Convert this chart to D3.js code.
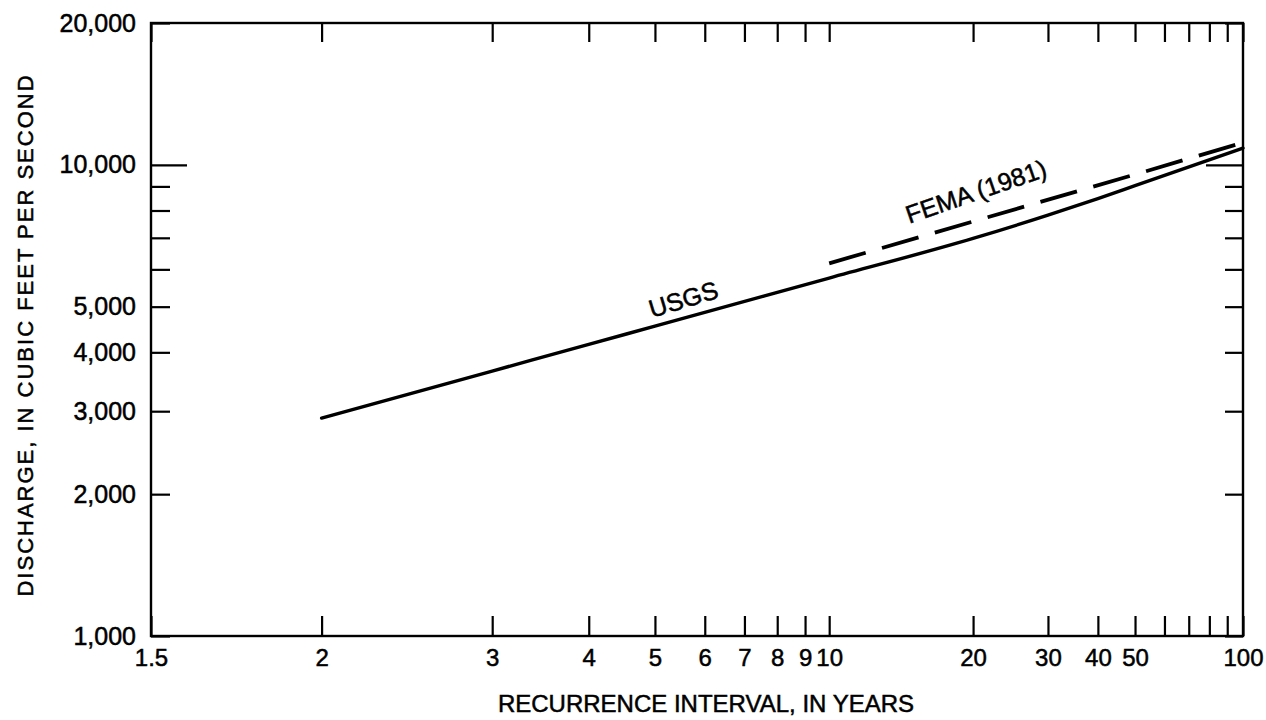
<!DOCTYPE html>
<html>
<head>
<meta charset="utf-8">
<script src="https://cdn.jsdelivr.net/npm/d3@7"></script>
<style>
  body { margin: 0; background: #fff; }
  text { font-family: "Liberation Sans", Arial, sans-serif; fill: #000; stroke: #000; stroke-width: 0.5px; }
</style>
</head>
<body>
<div id="chart"></div>
<script>
// data
var usgsT = [2, 3, 4, 5, 10, 20, 30, 40, 50, 100];
var usgsQ = [2900, 3650, 4160, 4545, 5750, 6980, 7820, 8480, 9030, 10850];
var femaT = [10, 50, 100];
var femaQ = [6180, 9540, 11150];

// axis ticks
var xTicks = [1.5, 2, 3, 4, 5, 6, 7, 8, 9, 10, 20, 30, 40, 50, 60, 70, 80, 90, 100];
var xLabels = [1.5, 2, 3, 4, 5, 6, 7, 8, 9, 10, 20, 30, 40, 50, 100];
var yTicks = [1000, 2000, 3000, 4000, 5000, 6000, 7000, 8000, 9000, 10000, 20000];
var yLabels = [1000, 2000, 3000, 4000, 5000, 10000, 20000];

var width = 1266;
var height = 720;
var plotLeft = 151, plotRight = 1243, plotTop = 23, plotBottom = 636;

// inverse normal cdf (Acklam)
function probit(p) {
  var a = [-3.969683028665376e+01, 2.209460984245205e+02, -2.759285104469687e+02, 1.383577518672690e+02, -3.066479806614716e+01, 2.506628277459239e+00];
  var b = [-5.447609879822406e+01, 1.615858368580409e+02, -1.556989798598866e+02, 6.680131188771972e+01, -1.328068155288572e+01];
  var c = [-7.784894002430293e-03, -3.223964580411365e-01, -2.400758277161838e+00, -2.549732539343734e+00, 4.374664141464968e+00, 2.938163982698783e+00];
  var d = [7.784695709041462e-03, 3.224671290700398e-01, 2.445134137142996e+00, 3.754408661907416e+00];
  var q, r;
  if (p < 0.02425) {
    q = Math.sqrt(-2 * Math.log(p));
    return (((((c[0]*q+c[1])*q+c[2])*q+c[3])*q+c[4])*q+c[5]) / ((((d[0]*q+d[1])*q+d[2])*q+d[3])*q+1);
  }
  if (p > 1 - 0.02425) {
    q = Math.sqrt(-2 * Math.log(1 - p));
    return -(((((c[0]*q+c[1])*q+c[2])*q+c[3])*q+c[4])*q+c[5]) / ((((d[0]*q+d[1])*q+d[2])*q+d[3])*q+1);
  }
  q = p - 0.5;
  r = q * q;
  return (((((a[0]*r+a[1])*r+a[2])*r+a[3])*r+a[4])*r+a[5])*q / (((((b[0]*r+b[1])*r+b[2])*r+b[3])*r+b[4])*r+1);
}

function zOf(T) { return probit(1 - 1 / T); }

// probability scale for recurrence interval
var xz = d3.scaleLinear().domain([zOf(1.5), zOf(100)]).range([plotLeft, plotRight]);
function xScale(T) { return xz(zOf(T)); }
xScale.copy = function() { return xScale; };
xScale.range = function() { return xz.range(); };

var yScale = d3.scaleLog().domain([1000, 20000]).range([plotBottom, plotTop]);

var svg = d3.select("#chart")
  .append("svg")
  .attr("width", width)
  .attr("height", height);

svg.append("rect").attr("width", width).attr("height", height).attr("fill", "#fff");

var fmt = d3.format(",");

function styleAxis(g, size) {
  g.select(".domain").remove();
  g.attr("font-family", null).attr("font-size", null);
  g.selectAll(".tick line").attr("stroke", "#000").attr("stroke-width", 2.2);
  g.selectAll(".tick text").attr("font-size", size || 24).attr("fill", "#000");
}

// bottom axis
svg.append("g")
  .attr("transform", "translate(0," + plotBottom + ")")
  .call(d3.axisBottom(xScale)
    .tickValues(xTicks)
    .tickSize(-20)
    .tickPadding(13)
    .tickFormat(function(d) { return xLabels.indexOf(d) >= 0 ? d : ""; }))
  .call(styleAxis, 24);

// top axis
svg.append("g")
  .attr("transform", "translate(0," + plotTop + ")")
  .call(d3.axisTop(xScale).tickValues(xTicks).tickSize(-19).tickFormat(""))
  .call(styleAxis);

// left axis
svg.append("g")
  .attr("transform", "translate(" + plotLeft + ",0)")
  .call(d3.axisLeft(yScale)
    .tickValues(yTicks)
    .tickSize(-19)
    .tickPadding(15)
    .tickFormat(function(d) { return yLabels.indexOf(d) >= 0 ? fmt(d) : ""; }))
  .call(styleAxis, 25)
  .selectAll(".tick line")
  .filter(function(d) { return d === 10000; })
  .attr("x2", 36);

// right axis
svg.append("g")
  .attr("transform", "translate(" + plotRight + ",0)")
  .call(d3.axisRight(yScale).tickValues(yTicks).tickSize(-18).tickFormat(""))
  .call(styleAxis)
  .selectAll(".tick line")
  .filter(function(d) { return d === 10000; })
  .attr("x2", -37);

// frame
svg.append("rect")
  .attr("x", plotLeft)
  .attr("y", plotTop)
  .attr("width", plotRight - plotLeft)
  .attr("height", plotBottom - plotTop)
  .attr("fill", "none")
  .attr("stroke", "#000")
  .attr("stroke-width", 2.4);

// curves
var line = d3.line()
  .x(function(d) { return xScale(d[0]); })
  .y(function(d) { return yScale(d[1]); });

svg.append("path")
  .datum(d3.zip(usgsT, usgsQ))
  .attr("fill", "none")
  .attr("stroke", "#000")
  .attr("stroke-width", 3.4)
  .attr("stroke-linecap", "round")
  .attr("d", line.curve(d3.curveMonotoneX));

svg.append("path")
  .datum(d3.zip(femaT, femaQ))
  .attr("fill", "none")
  .attr("stroke", "#000")
  .attr("stroke-width", 3.8)
  .attr("stroke-dasharray", "38,17")
  .attr("d", line.curve(d3.curveLinear));

// line labels
svg.append("text")
  .attr("transform", "translate(" + xScale(4.95) + "," + yScale(4730) + ") rotate(-17)")
  .attr("font-size", 25)
  .text("USGS");

svg.append("text")
  .attr("transform", "translate(" + xScale(14.5) + "," + yScale(7500) + ") rotate(-19)")
  .attr("font-size", 25)
  .text("FEMA (1981)");

// axis titles
svg.append("text")
  .attr("x", 706)
  .attr("y", 712)
  .attr("text-anchor", "middle")
  .attr("font-size", 24)
  .text("RECURRENCE INTERVAL, IN YEARS");

svg.append("text")
  .attr("transform", "translate(33,335) rotate(-90)")
  .attr("text-anchor", "middle")
  .attr("font-size", 22)
  .attr("letter-spacing", 2)
  .text("DISCHARGE, IN CUBIC FEET PER SECOND");
</script>
</body>
</html>
